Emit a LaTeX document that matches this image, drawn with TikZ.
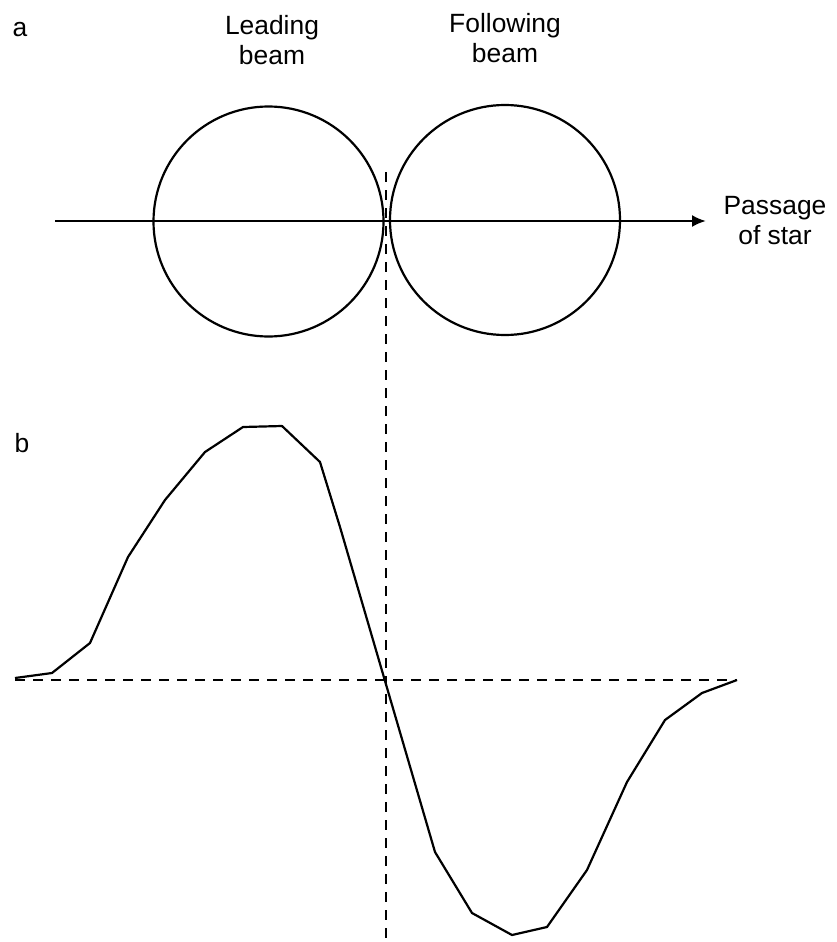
\documentclass[tikz,border=0pt]{standalone}
\usepackage{fontspec}
\setmainfont{Liberation Sans}
\usetikzlibrary{arrows.meta}
\tikzset{
  lbl/.style={align=center,font=\fontsize{13.2}{15}\selectfont,inner sep=0pt},
  beam/.style={draw,circle,line width=1.1pt,minimum size=115pt,inner sep=0pt,outer sep=0pt},
  guide/.style={line width=1.2pt,dash pattern=on 5pt off 4pt}
}

\begin{document}
\begin{tikzpicture}[x=0.5pt,y=-0.5pt,>={Latex[length=7pt,width=6pt]},line width=1.1pt]
\useasboundingbox (0,0) rectangle (836,942);

% ---------------- a: the two beams ----------------
\node[lbl] (pa) at (20,30) {a};
\node[lbl] (leadtxt) at (272,40) {Leading\\beam};
\node[lbl] (folltxt) at (505,38) {Following\\beam};

\node[beam] (lead) at (268.5,221.5) {};
\node[beam] (foll) at (505,220) {};

\coordinate (star0) at (55,221);
\coordinate (star1) at (706,221);
\draw[->] (star0) -- (star1);
\node[lbl] (passage) at (775,221) {Passage\\of star};

% ---------------- b: the signal ----------------
\node[lbl] (pb) at (22,443) {b};

\coordinate (vtop) at (386,172);
\coordinate (vbot) at (386,942);
\draw[guide] (vtop) -- (vbot);

\coordinate (zl) at (15,680);
\coordinate (zr) at (737,680);
\draw[guide] (zl) -- (zr);

\draw[line join=round] plot coordinates {
  (15,678) (52,673) (90,643) (128,557) (165,500) (205,452) (243,427)
  (282,426) (320,462) (340,527) (435,852) (472,913) (512,935) (547,927)
  (587,870) (627,782) (665,720) (702,693) (737,680)};

\end{tikzpicture}
\end{document}
